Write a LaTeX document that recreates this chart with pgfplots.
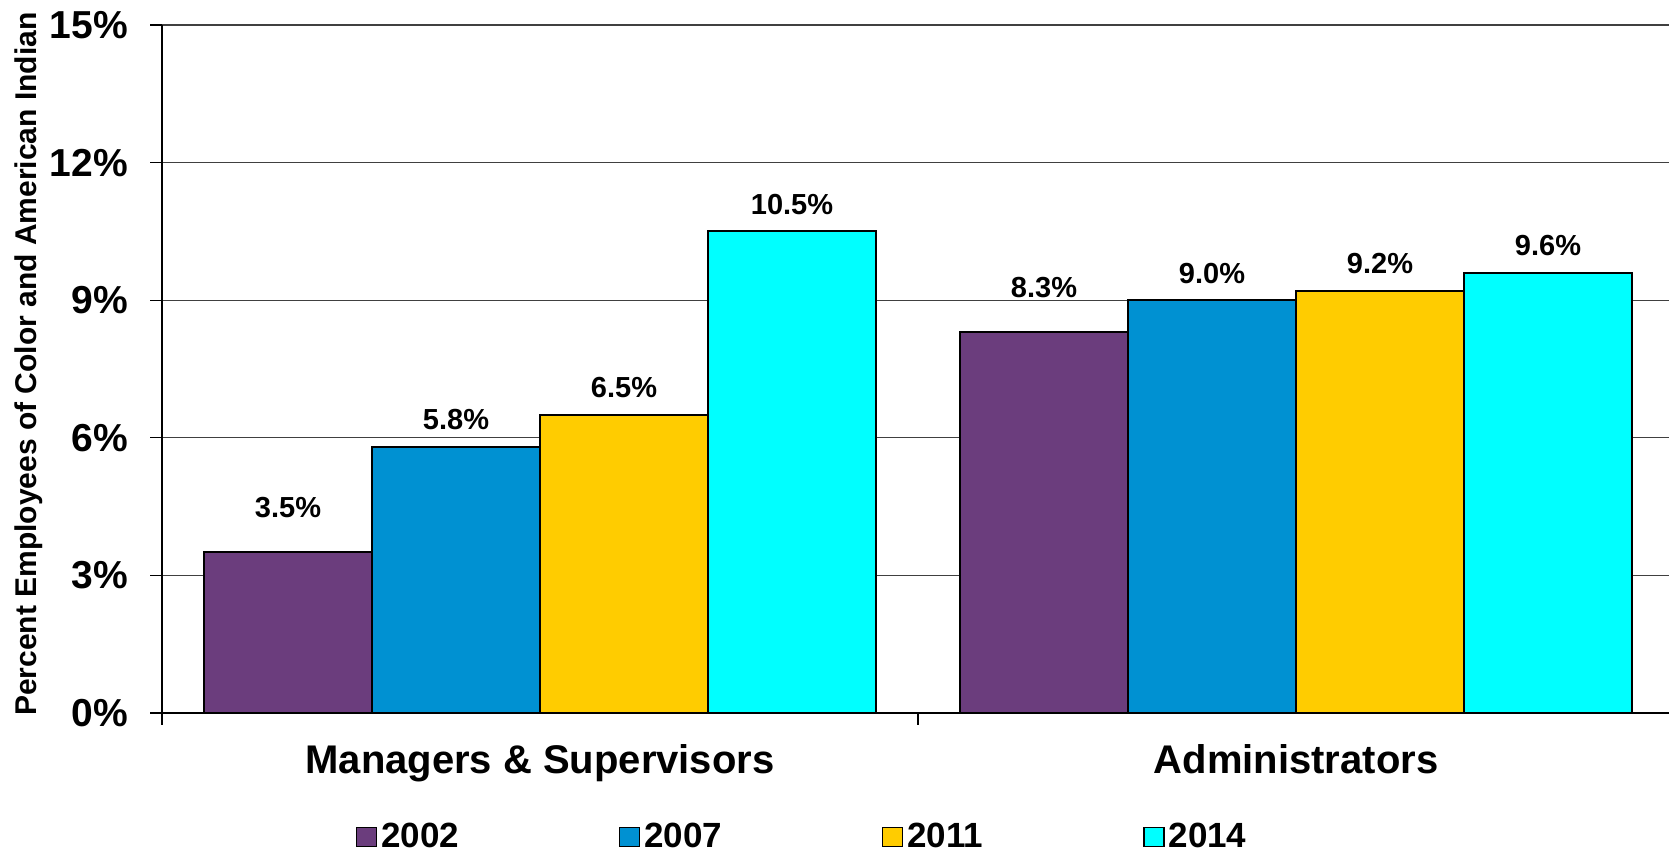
\documentclass[border=0pt]{standalone}
\usepackage{pgfplots}
\pgfplotsset{compat=1.18}
\usepackage{fontspec}
\setmainfont{Liberation Sans}
\definecolor{cPurple}{HTML}{6B3D7D}
\definecolor{cBlue}{HTML}{0091D2}
\definecolor{cGold}{HTML}{FFCC00}
\definecolor{cCyan}{HTML}{00FFFF}
\pgfplotsset{sqleg/.style={legend image code/.code={\draw[##1,line width=0.8pt] (0pt,-4.75pt) rectangle (10pt,4.75pt);}}}
\begin{document}
\begin{tikzpicture}
\path[use as bounding box] (0,0) rectangle (834.5pt,427pt);
\begin{axis}[
  at={(81pt,70.5pt)}, anchor=south west,
  scale only axis, width=756pt, height=344pt,
  xmin=-0.5, xmax=1.5, ymin=0, ymax=15,
  ybar=0pt, bar width=84pt,
  axis x line*=bottom, axis y line*=left,
  axis line style={line width=1pt, black},
  xtick={0,1}, xticklabels={Managers \& Supervisors, Administrators},
  xtick style={draw=none},
  xticklabel style={font=\bfseries\fontsize{20}{24}\selectfont, yshift=-6pt},
  extra x ticks={-0.5,0.5,1.5}, extra x tick labels={},
  extra x tick style={xtick style={draw=black, line width=0.8pt}, major tick length=6pt, tick align=outside, grid=none},
  ytick={0,3,...,15}, yticklabels={0\%,3\%,6\%,9\%,12\%,15\%},
  yticklabel style={font=\bfseries\fontsize{19.5}{22}\selectfont, xshift=-7.5pt},
  ytick style={black, line width=0.6pt},
  tick align=outside, major tick length=6pt,
  ymajorgrids, grid style={black!75, line width=0.6pt},
  ylabel={Percent Employees of Color and American Indian},
  ylabel style={font=\bfseries\fontsize{15}{17}\selectfont, at={(axis description cs:-0.088,0.507)}, anchor=center},
  nodes near coords={\pgfmathprintnumber[fixed,fixed zerofill,precision=1]{\pgfplotspointmeta}\%},
  /pgf/number format/assume math mode=true,
  every node near coord/.append style={font=\bfseries\fontsize{14.5}{17}\selectfont, anchor=center, yshift=13.5pt, black},
  legend style={at={(0.4240,-0.1800)}, anchor=center, draw=none, fill=none, legend columns=4,
    font=\bfseries\fontsize{17.5}{20}\selectfont,
    /tikz/every even column/.append style={column sep=77.8pt}},
  legend cell align=left,
]
\addplot[fill=cPurple, draw=black, line width=1pt, sqleg, every node near coord/.append style={yshift=9pt}] coordinates {(0,3.5) (1,8.3)};
\addplot[fill=cBlue, draw=black, line width=1pt, sqleg] coordinates {(0,5.8) (1,9.0)};
\addplot[fill=cGold, draw=black, line width=1pt, sqleg] coordinates {(0,6.5) (1,9.2)};
\addplot[fill=cCyan, draw=black, line width=1pt, sqleg] coordinates {(0,10.5) (1,9.6)};
\legend{2002,2007,2011,2014}
\end{axis}
\end{tikzpicture}
\end{document}
